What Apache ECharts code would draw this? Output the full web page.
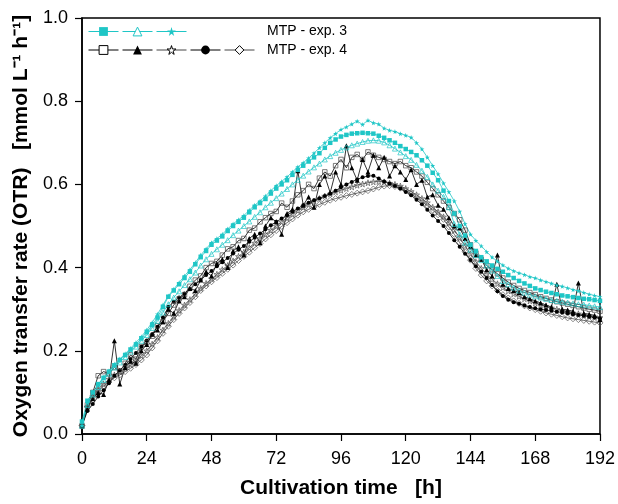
<!DOCTYPE html>
<html>
<head>
<meta charset="utf-8">
<script src="https://cdn.jsdelivr.net/npm/echarts@6/dist/echarts.min.js"></script>
<style>
  html, body { margin: 0; padding: 0; background: #fff; }
  #chart { width: 618px; height: 504px; }
</style>
</head>
<body>
<div id="chart"></div>
<script>
// cultivation time [h], one reading every 2 h
const times = [0,2,4,6,8,10,12,14,16,18,20,22,24,26,28,30,32,34,36,38,40,42,44,46,48,50,52,54,56,58,60,62,64,66,68,70,72,74,76,78,80,82,84,86,88,90,92,94,96,98,100,102,104,106,108,110,112,114,116,118,120,122,124,126,128,130,132,134,136,138,140,142,144,146,148,150,152,154,156,158,160,162,164,166,168,170,172,174,176,178,180,182,184,186,188,190,192];

// MTP - exp. 3 (cyan)
const exp3Square = [0.03,0.08,0.10,0.12,0.135,0.15,0.165,0.178,0.19,0.203,0.215,0.23,0.245,0.262,0.28,0.305,0.33,0.345,0.36,0.375,0.39,0.408,0.425,0.44,0.455,0.465,0.475,0.488,0.5,0.51,0.52,0.533,0.545,0.555,0.565,0.578,0.59,0.6,0.61,0.623,0.635,0.645,0.655,0.665,0.675,0.688,0.70,0.708,0.715,0.719,0.722,0.723,0.724,0.723,0.722,0.717,0.712,0.706,0.70,0.692,0.685,0.678,0.67,0.658,0.645,0.628,0.61,0.585,0.56,0.53,0.50,0.477,0.455,0.44,0.425,0.415,0.405,0.397,0.39,0.382,0.375,0.368,0.362,0.356,0.35,0.346,0.342,0.339,0.336,0.333,0.331,0.329,0.327,0.325,0.324,0.322,0.32];
const exp3Triangle = [0.02,0.07,0.095,0.113,0.13,0.145,0.16,0.172,0.185,0.198,0.21,0.224,0.238,0.255,0.272,0.292,0.312,0.328,0.343,0.358,0.372,0.388,0.405,0.42,0.433,0.444,0.455,0.466,0.478,0.489,0.5,0.511,0.522,0.533,0.545,0.556,0.567,0.578,0.589,0.6,0.611,0.621,0.631,0.641,0.65,0.66,0.668,0.676,0.683,0.689,0.694,0.698,0.702,0.705,0.706,0.705,0.701,0.694,0.686,0.677,0.668,0.659,0.647,0.633,0.618,0.6,0.585,0.57,0.545,0.505,0.48,0.46,0.443,0.43,0.418,0.405,0.393,0.38,0.368,0.36,0.352,0.345,0.34,0.335,0.331,0.328,0.325,0.322,0.32,0.318,0.316,0.314,0.312,0.311,0.309,0.307,0.305];
const exp3Star = [0.02,0.075,0.10,0.118,0.137,0.152,0.168,0.18,0.193,0.206,0.22,0.234,0.25,0.268,0.288,0.31,0.332,0.348,0.364,0.38,0.395,0.412,0.43,0.445,0.46,0.47,0.48,0.493,0.505,0.515,0.525,0.538,0.55,0.56,0.572,0.585,0.597,0.607,0.618,0.63,0.642,0.652,0.663,0.675,0.688,0.70,0.712,0.722,0.732,0.738,0.745,0.752,0.744,0.754,0.748,0.745,0.735,0.73,0.727,0.722,0.718,0.713,0.70,0.685,0.665,0.645,0.625,0.603,0.582,0.56,0.535,0.505,0.48,0.465,0.452,0.438,0.425,0.415,0.406,0.398,0.392,0.387,0.383,0.378,0.375,0.37,0.366,0.362,0.358,0.355,0.351,0.347,0.344,0.34,0.336,0.333,0.33];

// MTP - exp. 4 (black)
const exp4Square = [0.02,0.07,0.1,0.14,0.15,0.145,0.16,0.15,0.17,0.19,0.18,0.21,0.22,0.235,0.26,0.27,0.29,0.31,0.325,0.335,0.355,0.37,0.38,0.4,0.41,0.415,0.43,0.445,0.45,0.465,0.47,0.49,0.495,0.51,0.52,0.53,0.535,0.555,0.545,0.56,0.575,0.585,0.6,0.59,0.615,0.63,0.62,0.645,0.66,0.64,0.665,0.672,0.66,0.678,0.67,0.665,0.66,0.655,0.65,0.655,0.645,0.64,0.63,0.62,0.605,0.59,0.575,0.56,0.545,0.53,0.515,0.49,0.455,0.435,0.42,0.405,0.395,0.385,0.375,0.365,0.357,0.35,0.345,0.34,0.335,0.33,0.326,0.322,0.318,0.315,0.312,0.309,0.306,0.303,0.3,0.298,0.295];
const exp4Triangle = [0.02,0.06,0.085,0.1,0.095,0.13,0.224,0.12,0.16,0.175,0.17,0.2,0.215,0.24,0.25,0.27,0.3,0.29,0.32,0.33,0.35,0.345,0.37,0.39,0.38,0.41,0.42,0.4,0.44,0.45,0.43,0.47,0.48,0.46,0.5,0.52,0.51,0.48,0.53,0.54,0.633,0.55,0.57,0.545,0.6,0.62,0.58,0.63,0.6,0.693,0.64,0.61,0.66,0.63,0.67,0.64,0.665,0.62,0.645,0.63,0.612,0.635,0.6,0.61,0.57,0.575,0.55,0.54,0.52,0.5,0.495,0.47,0.45,0.43,0.42,0.395,0.38,0.43,0.36,0.35,0.345,0.34,0.33,0.325,0.32,0.315,0.31,0.305,0.36,0.3,0.298,0.295,0.363,0.29,0.288,0.285,0.275];
const exp4Star = [0.02,0.065,0.09,0.108,0.12,0.132,0.142,0.15,0.158,0.166,0.176,0.188,0.2,0.216,0.232,0.25,0.266,0.282,0.297,0.31,0.323,0.337,0.35,0.362,0.373,0.384,0.395,0.405,0.416,0.427,0.437,0.448,0.459,0.47,0.48,0.49,0.5,0.51,0.52,0.529,0.538,0.546,0.553,0.56,0.566,0.572,0.577,0.582,0.586,0.59,0.594,0.598,0.601,0.604,0.606,0.607,0.606,0.603,0.6,0.596,0.59,0.583,0.575,0.566,0.556,0.545,0.534,0.522,0.507,0.49,0.472,0.452,0.433,0.414,0.398,0.384,0.372,0.361,0.352,0.344,0.337,0.331,0.325,0.32,0.315,0.311,0.307,0.303,0.3,0.297,0.294,0.291,0.289,0.286,0.284,0.282,0.28];
const exp4Circle = [0.02,0.055,0.072,0.09,0.105,0.122,0.14,0.153,0.166,0.18,0.195,0.21,0.225,0.24,0.258,0.28,0.305,0.318,0.328,0.338,0.348,0.36,0.37,0.382,0.392,0.403,0.413,0.423,0.434,0.443,0.452,0.462,0.472,0.482,0.492,0.502,0.51,0.518,0.526,0.534,0.542,0.55,0.556,0.562,0.567,0.572,0.578,0.585,0.593,0.6,0.606,0.612,0.617,0.62,0.621,0.614,0.607,0.602,0.596,0.59,0.582,0.574,0.563,0.552,0.539,0.525,0.512,0.5,0.483,0.466,0.45,0.433,0.418,0.403,0.39,0.375,0.358,0.343,0.332,0.323,0.317,0.313,0.309,0.305,0.302,0.3,0.298,0.296,0.294,0.292,0.29,0.288,0.286,0.284,0.282,0.28,0.278];
const exp4Diamond = [0.02,0.065,0.088,0.103,0.115,0.125,0.135,0.142,0.15,0.158,0.167,0.178,0.19,0.207,0.224,0.242,0.259,0.275,0.29,0.303,0.316,0.33,0.345,0.356,0.366,0.376,0.386,0.396,0.406,0.417,0.427,0.437,0.448,0.458,0.469,0.479,0.489,0.499,0.508,0.517,0.526,0.534,0.54,0.546,0.552,0.557,0.562,0.566,0.569,0.573,0.576,0.579,0.582,0.585,0.589,0.593,0.596,0.597,0.595,0.591,0.585,0.577,0.568,0.559,0.549,0.538,0.527,0.516,0.498,0.48,0.46,0.438,0.418,0.398,0.382,0.368,0.356,0.345,0.335,0.327,0.32,0.314,0.308,0.303,0.299,0.295,0.291,0.288,0.285,0.282,0.279,0.277,0.275,0.273,0.271,0.269,0.267];

const xTicks = [0, 24, 48, 72, 96, 120, 144, 168, 192];
const yTicks = [0.0, 0.2, 0.4, 0.6, 0.8, 1.0];

const CYAN = "#1fc6c6";
const BLACK = "#000000";
const STAR = "path://M50,0 L61,35 L98,35 L68,57 L79,91 L50,70 L21,91 L32,57 L2,35 L39,35 Z";

const chart = echarts.init(document.getElementById("chart"));

function mk(name, values, color, symbol, size, hollow, lineColor) {
  return {
    name,
    type: "line",
    data: values.map((v, i) => [times[i], v]),
    symbol,
    symbolSize: size,
    showAllSymbol: true,
    lineStyle: { color: lineColor || color, width: 0.8 },
    itemStyle: hollow
      ? { color: "transparent", borderColor: color, borderWidth: 0.7 }
      : { color, borderColor: color, borderWidth: 0 },
    emphasis: { disabled: true },
    animation: false,
    z: 2,
  };
}

const series = [
  mk("exp4 diamond", exp4Diamond, "#555", "diamond", 6, true, "#444"),
  mk("exp4 star", exp4Star, "#555", STAR, 6, true, "#444"),
  mk("exp4 circle", exp4Circle, BLACK, "circle", 4, false),
  mk("exp4 square", exp4Square, "#444", "rect", 4.5, true, BLACK),
  mk("exp4 triangle", exp4Triangle, BLACK, "triangle", 5, false),
  mk("exp3 triangle", exp3Triangle, CYAN, "triangle", 5, true),
  mk("exp3 star", exp3Star, CYAN, STAR, 5, false),
  mk("exp3 square", exp3Square, CYAN, "rect", 4.5, false),
];

const legendBase = {
  orient: "horizontal",
  padding: 0,
  itemWidth: 30,
  itemHeight: 11,
  itemGap: 3,
  selectedMode: false,
  formatter: () => "",
  textStyle: { fontSize: 8 },
  lineStyle: { width: 1 },
  left: 88,
};
const hollowBlack = { color: "#fff", borderColor: "#000", borderWidth: 1 };

chart.setOption({
  backgroundColor: "#fff",
  textStyle: { fontFamily: "Liberation Sans, Arial, sans-serif" },
  grid: { left: 82, right: 16, top: 18, bottom: 66, show: true, borderColor: "#000", borderWidth: 1.5 },
  legend: [
    Object.assign({}, legendBase, {
      top: 26,
      data: [
        { name: "exp3 square" },
        { name: "exp3 triangle", itemStyle: { color: "#fff", borderColor: CYAN, borderWidth: 1 } },
        { name: "exp3 star", itemStyle: { color: CYAN, borderWidth: 0 } },
      ],
    }),
    Object.assign({}, legendBase, {
      top: 44.5,
      data: [
        { name: "exp4 square", itemStyle: hollowBlack },
        { name: "exp4 triangle" },
        { name: "exp4 star", itemStyle: hollowBlack },
        { name: "exp4 circle" },
        { name: "exp4 diamond", itemStyle: hollowBlack },
      ],
    }),
  ],
  graphic: [
    { type: "text", left: 267, top: 24, style: { text: "MTP - exp. 3", font: "14px Liberation Sans, Arial", fill: "#000" } },
    { type: "text", left: 267, top: 43, style: { text: "MTP - exp. 4", font: "14px Liberation Sans, Arial", fill: "#000" } },
  ],
  xAxis: {
    type: "value",
    min: xTicks[0],
    max: xTicks[xTicks.length - 1],
    interval: 24,
    name: "Cultivation time   [h]",
    nameLocation: "middle",
    nameGap: 44,
    nameTextStyle: { fontSize: 21, fontWeight: "bold", color: "#000" },
    axisLine: { lineStyle: { color: "#000", width: 1.5 } },
    axisTick: { show: true, length: 7, lineStyle: { color: "#000", width: 1.2 } },
    axisLabel: { fontSize: 18, color: "#000", margin: 16 },
    splitLine: { show: false },
  },
  yAxis: {
    type: "value",
    min: yTicks[0],
    max: yTicks[yTicks.length - 1],
    interval: 0.2,
    name: "Oxygen transfer rate (OTR)   [mmol L\u207B\u00B9 h\u207B\u00B9]",
    nameLocation: "middle",
    nameGap: 41,
    nameTextStyle: { fontSize: 21, fontWeight: "bold", color: "#000" },
    axisLine: { lineStyle: { color: "#000", width: 1.5 } },
    axisTick: { show: true, length: 7, lineStyle: { color: "#000", width: 1.2 } },
    axisLabel: { fontSize: 18, color: "#000", margin: 14, formatter: (v) => v.toFixed(1) },
    splitLine: { show: false },
  },
  series,
});
</script>
</body>
</html>
